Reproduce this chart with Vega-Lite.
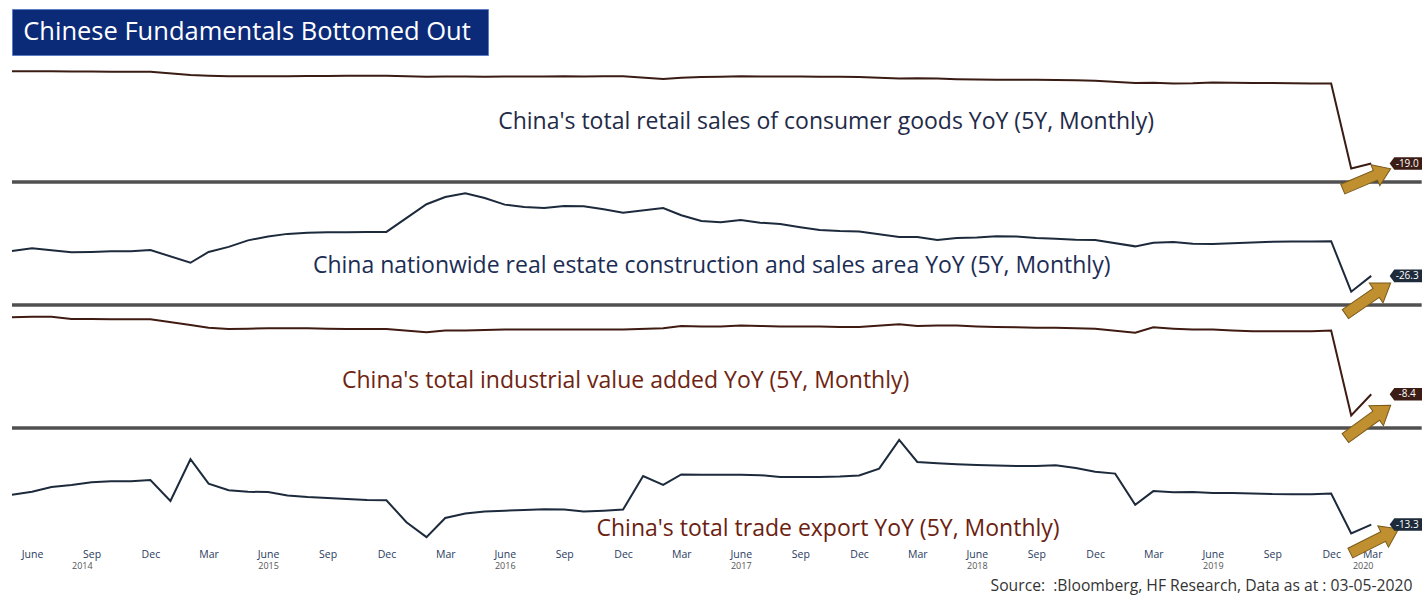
{
  "$schema": "https://vega.github.io/schema/vega-lite/v6.json",
  "padding": {"left": 8, "top": 8, "right": 0, "bottom": 6},
  "background": "white",
  "bounds": "flush",
  "spacing": 0,
  "title": {"text": "Source: \u00a0:Bloomberg, HF Research, Data as at : 03-05-2020", "orient": "bottom", "anchor": "end", "fontSize": 15.7, "font": "Open Sans", "fontWeight": "normal", "color": "#333333", "offset": 9, "dx": -11},
  "resolve": {"scale": {"x": "independent", "y": "independent"}},
  "config": {"view": {"stroke": null}, "font": "Open Sans"},
  "vconcat": [
    {
      "width": 476, "height": 46,
      "view": {"fill": "#0b2a78", "stroke": "#5c7cc4", "strokeWidth": 1},
      "data": {"values": [{"t": "Chinese Fundamentals Bottomed Out"}]},
      "mark": {"type": "text", "color": "white", "fontSize": 25.5, "font": "Open Sans", "dx": -3},
      "encoding": {"text": {"field": "t"}}
    },
    {
      "width": 1378, "height": 127,
      "layer": [
        {
          "data": {"values": [
            {"date": "2014-05-01", "value": 12.2}, {"date": "2014-06-01", "value": 12.2}, {"date": "2014-07-01", "value": 12.2}, {"date": "2014-08-01", "value": 12.1}, {"date": "2014-09-01", "value": 12.1}, {"date": "2014-10-01", "value": 12.0}, {"date": "2014-11-01", "value": 12.0}, {"date": "2014-12-01", "value": 12.0},
            {"date": "2015-02-01", "value": 10.9}, {"date": "2015-03-01", "value": 10.7}, {"date": "2015-04-01", "value": 10.5}, {"date": "2015-05-01", "value": 10.5}, {"date": "2015-06-01", "value": 10.5}, {"date": "2015-07-01", "value": 10.5}, {"date": "2015-08-01", "value": 10.6}, {"date": "2015-09-01", "value": 10.6}, {"date": "2015-10-01", "value": 10.7}, {"date": "2015-11-01", "value": 10.7}, {"date": "2015-12-01", "value": 10.7},
            {"date": "2016-02-01", "value": 10.3}, {"date": "2016-03-01", "value": 10.4}, {"date": "2016-04-01", "value": 10.4}, {"date": "2016-05-01", "value": 10.3}, {"date": "2016-06-01", "value": 10.4}, {"date": "2016-07-01", "value": 10.4}, {"date": "2016-08-01", "value": 10.4}, {"date": "2016-09-01", "value": 10.5}, {"date": "2016-10-01", "value": 10.4}, {"date": "2016-11-01", "value": 10.5}, {"date": "2016-12-01", "value": 10.5},
            {"date": "2017-02-01", "value": 9.6}, {"date": "2017-03-01", "value": 10.0}, {"date": "2017-04-01", "value": 10.2}, {"date": "2017-05-01", "value": 10.3}, {"date": "2017-06-01", "value": 10.5}, {"date": "2017-07-01", "value": 10.4}, {"date": "2017-08-01", "value": 10.4}, {"date": "2017-09-01", "value": 10.4}, {"date": "2017-10-01", "value": 10.3}, {"date": "2017-11-01", "value": 10.3}, {"date": "2017-12-01", "value": 10.2},
            {"date": "2018-02-01", "value": 9.7}, {"date": "2018-03-01", "value": 9.8}, {"date": "2018-04-01", "value": 9.7}, {"date": "2018-05-01", "value": 9.5}, {"date": "2018-06-01", "value": 9.4}, {"date": "2018-07-01", "value": 9.3}, {"date": "2018-08-01", "value": 9.3}, {"date": "2018-09-01", "value": 9.3}, {"date": "2018-10-01", "value": 9.2}, {"date": "2018-11-01", "value": 9.1}, {"date": "2018-12-01", "value": 9.0},
            {"date": "2019-02-01", "value": 8.2}, {"date": "2019-03-01", "value": 8.3}, {"date": "2019-04-01", "value": 8.0}, {"date": "2019-05-01", "value": 8.1}, {"date": "2019-06-01", "value": 8.4}, {"date": "2019-07-01", "value": 8.3}, {"date": "2019-08-01", "value": 8.2}, {"date": "2019-09-01", "value": 8.2}, {"date": "2019-10-01", "value": 8.1}, {"date": "2019-11-01", "value": 8.0}, {"date": "2019-12-01", "value": 8.0},
            {"date": "2020-01-01", "value": -20.7}, {"date": "2020-02-01", "value": -19.0}
          ]},
          "mark": {"type": "line", "color": "#3a1c14", "strokeWidth": 2},
          "encoding": {
            "x": {"field": "date", "type": "temporal", "scale": {"type": "utc", "domain": [{"year": 2014, "month": 5, "date": 1, "utc": true}, {"year": 2020, "month": 3, "date": 1, "utc": true}]}, "axis": null},
            "y": {"field": "value", "type": "quantitative", "scale": {"domain": [-25.24, 17.67], "nice": false, "zero": false},
              "axis": {"orient": "right", "title": null, "grid": false, "values": [15, 10, 5, 0, -5, -10, -15, -20], "labelExpr": "datum.value % 10 === 0 ? '' + datum.value : ''", "labelOverlap": false, "domainColor": "#8a8a8a", "tickColor": "#444444", "tickSize": 4, "tickWidth": {"condition": {"test": "datum.value % 10 === 0", "value": 2}, "value": 1}, "labelFontSize": 9, "labelColor": "#444444", "labelPadding": 2, "labelFont": "Open Sans"}}
          }
        },
        {
          "data": {"values": [{"date": "2017-10-11", "value": -5.0, "text": "China's total retail sales of consumer goods YoY (5Y, Monthly)"}]},
          "mark": {"type": "text", "fontSize": 23, "color": "#1f2b48", "font": "Open Sans"},
          "encoding": {
            "x": {"field": "date", "type": "temporal", "scale": {"type": "utc", "domain": [{"year": 2014, "month": 5, "date": 1, "utc": true}, {"year": 2020, "month": 3, "date": 1, "utc": true}]}, "axis": null},
            "y": {"field": "value", "type": "quantitative", "scale": {"domain": [-25.24, 17.67], "nice": false, "zero": false}, "axis": null},
            "text": {"field": "text"}
          }
        },
        {
          "data": {"values": [{}]},
          "mark": {"type": "rule", "color": "#505050", "strokeWidth": 3.5},
          "encoding": {
            "x": {"datum": {"year": 2014, "month": 5, "date": 1, "utc": true}, "type": "temporal", "scale": {"type": "utc", "domain": [{"year": 2014, "month": 5, "date": 1, "utc": true}, {"year": 2020, "month": 3, "date": 1, "utc": true}]}, "axis": null},
            "x2": {"datum": {"year": 2020, "month": 4, "date": 19, "utc": true}},
            "y": {"datum": -25.24, "type": "quantitative", "scale": {"domain": [-25.24, 17.67], "nice": false, "zero": false}, "axis": null}
          }
        },
        {
          "data": {"values": [{"date": "2020-01-25", "value": -24.2}]},
          "mark": {"type": "point", "filled": true, "shape": "M-1,-0.2L0.36,-0.2L0.36,-0.44L1,0L0.36,0.44L0.36,0.2L-1,0.2Z", "size": 2704, "angle": -23, "color": "#bf8f30", "stroke": "#7a5a1a", "strokeWidth": 1, "opacity": 1},
          "encoding": {
            "x": {"field": "date", "type": "temporal", "scale": {"type": "utc", "domain": [{"year": 2014, "month": 5, "date": 1, "utc": true}, {"year": 2020, "month": 3, "date": 1, "utc": true}]}, "axis": null},
            "y": {"field": "value", "type": "quantitative", "scale": {"domain": [-25.24, 17.67], "nice": false, "zero": false}, "axis": null}
          }
        },
        {
          "data": {"values": [{"date": "2020-03-26", "value": -19.0, "label": "-19.0"}]},
          "layer": [
            {"mark": {"type": "point", "filled": true, "shape": "M-1,0L-0.72,-0.38L1,-0.38L1,0.38L-0.72,0.38Z", "size": 1089, "color": "#3b1d15", "opacity": 1}},
            {"mark": {"type": "text", "color": "white", "fontSize": 10, "font": "Open Sans", "dx": 1}, "encoding": {"text": {"field": "label"}}}
          ],
          "encoding": {
            "x": {"field": "date", "type": "temporal", "scale": {"type": "utc", "domain": [{"year": 2014, "month": 5, "date": 1, "utc": true}, {"year": 2020, "month": 3, "date": 1, "utc": true}]}, "axis": null},
            "y": {"field": "value", "type": "quantitative", "scale": {"domain": [-25.24, 17.67], "nice": false, "zero": false}, "axis": null}
          }
        }
      ]
    },
    {
      "width": 1378, "height": 123,
      "layer": [
        {
          "data": {"values": [
            {"date": "2014-05-01", "value": -7.2}, {"date": "2014-06-01", "value": -5.1}, {"date": "2014-07-01", "value": -6.6}, {"date": "2014-08-01", "value": -8.2}, {"date": "2014-09-01", "value": -7.9}, {"date": "2014-10-01", "value": -7.4}, {"date": "2014-11-01", "value": -7.4}, {"date": "2014-12-01", "value": -6.4},
            {"date": "2015-02-01", "value": -16.2}, {"date": "2015-03-01", "value": -7.9}, {"date": "2015-04-01", "value": -4.0}, {"date": "2015-05-01", "value": 1.0}, {"date": "2015-06-01", "value": 4.0}, {"date": "2015-07-01", "value": 6.0}, {"date": "2015-08-01", "value": 6.8}, {"date": "2015-09-01", "value": 7.2}, {"date": "2015-10-01", "value": 7.3}, {"date": "2015-11-01", "value": 7.5}, {"date": "2015-12-01", "value": 7.5},
            {"date": "2016-02-01", "value": 28.8}, {"date": "2016-03-01", "value": 34.4}, {"date": "2016-04-01", "value": 37.2}, {"date": "2016-05-01", "value": 33.6}, {"date": "2016-06-01", "value": 28.5}, {"date": "2016-07-01", "value": 26.7}, {"date": "2016-08-01", "value": 25.9}, {"date": "2016-09-01", "value": 27.5}, {"date": "2016-10-01", "value": 27.2}, {"date": "2016-11-01", "value": 24.9}, {"date": "2016-12-01", "value": 22.3},
            {"date": "2017-02-01", "value": 25.9}, {"date": "2017-03-01", "value": 20.3}, {"date": "2017-04-01", "value": 15.9}, {"date": "2017-05-01", "value": 14.9}, {"date": "2017-06-01", "value": 16.7}, {"date": "2017-07-01", "value": 14.6}, {"date": "2017-08-01", "value": 13.6}, {"date": "2017-09-01", "value": 11.1}, {"date": "2017-10-01", "value": 9.0}, {"date": "2017-11-01", "value": 8.2}, {"date": "2017-12-01", "value": 7.8},
            {"date": "2018-02-01", "value": 3.6}, {"date": "2018-03-01", "value": 3.6}, {"date": "2018-04-01", "value": 1.3}, {"date": "2018-05-01", "value": 2.9}, {"date": "2018-06-01", "value": 3.3}, {"date": "2018-07-01", "value": 4.2}, {"date": "2018-08-01", "value": 4.0}, {"date": "2018-09-01", "value": 2.9}, {"date": "2018-10-01", "value": 2.2}, {"date": "2018-11-01", "value": 1.4}, {"date": "2018-12-01", "value": 1.3},
            {"date": "2019-02-01", "value": -3.6}, {"date": "2019-03-01", "value": -0.9}, {"date": "2019-04-01", "value": -0.3}, {"date": "2019-05-01", "value": -1.6}, {"date": "2019-06-01", "value": -1.8}, {"date": "2019-07-01", "value": -1.3}, {"date": "2019-08-01", "value": -0.6}, {"date": "2019-09-01", "value": -0.1}, {"date": "2019-10-01", "value": 0.1}, {"date": "2019-11-01", "value": 0.2}, {"date": "2019-12-01", "value": 0.4},
            {"date": "2020-01-01", "value": -38.5}, {"date": "2020-02-01", "value": -26.3}
          ]},
          "mark": {"type": "line", "color": "#1c2a3c", "strokeWidth": 2},
          "encoding": {
            "x": {"field": "date", "type": "temporal", "scale": {"type": "utc", "domain": [{"year": 2014, "month": 5, "date": 1, "utc": true}, {"year": 2020, "month": 3, "date": 1, "utc": true}]}, "axis": null},
            "y": {"field": "value", "type": "quantitative", "scale": {"domain": [-48.7, 45.9], "nice": false, "zero": false},
              "axis": {"orient": "right", "title": null, "grid": false, "values": [40, 30, 20, 10, 0, -10, -20, -30, -40], "labelExpr": "datum.value % 20 === 0 ? '' + datum.value : ''", "labelOverlap": false, "domainColor": "#8a8a8a", "tickColor": "#444444", "tickSize": 4, "tickWidth": {"condition": {"test": "datum.value % 20 === 0", "value": 2}, "value": 1}, "labelFontSize": 9, "labelColor": "#444444", "labelPadding": 2, "labelFont": "Open Sans"}}
          }
        },
        {
          "data": {"values": [{"date": "2017-04-17", "value": -18.7, "text": "China nationwide real estate construction and sales area YoY (5Y, Monthly)"}]},
          "mark": {"type": "text", "fontSize": 23, "color": "#1c2d55", "font": "Open Sans"},
          "encoding": {
            "x": {"field": "date", "type": "temporal", "scale": {"type": "utc", "domain": [{"year": 2014, "month": 5, "date": 1, "utc": true}, {"year": 2020, "month": 3, "date": 1, "utc": true}]}, "axis": null},
            "y": {"field": "value", "type": "quantitative", "scale": {"domain": [-48.7, 45.9], "nice": false, "zero": false}, "axis": null},
            "text": {"field": "text"}
          }
        },
        {
          "data": {"values": [{}]},
          "mark": {"type": "rule", "color": "#505050", "strokeWidth": 3.5},
          "encoding": {
            "x": {"datum": {"year": 2014, "month": 5, "date": 1, "utc": true}, "type": "temporal", "scale": {"type": "utc", "domain": [{"year": 2014, "month": 5, "date": 1, "utc": true}, {"year": 2020, "month": 3, "date": 1, "utc": true}]}, "axis": null},
            "x2": {"datum": {"year": 2020, "month": 4, "date": 19, "utc": true}},
            "y": {"datum": -48.7, "type": "quantitative", "scale": {"domain": [-48.7, 45.9], "nice": false, "zero": false}, "axis": null}
          }
        },
        {
          "data": {"values": [{"date": "2020-01-27", "value": -43.7}]},
          "mark": {"type": "point", "filled": true, "shape": "M-1,-0.2L0.36,-0.2L0.36,-0.44L1,0L0.36,0.44L0.36,0.2L-1,0.2Z", "size": 3025, "angle": -34.6, "color": "#bf8f30", "stroke": "#7a5a1a", "strokeWidth": 1, "opacity": 1},
          "encoding": {
            "x": {"field": "date", "type": "temporal", "scale": {"type": "utc", "domain": [{"year": 2014, "month": 5, "date": 1, "utc": true}, {"year": 2020, "month": 3, "date": 1, "utc": true}]}, "axis": null},
            "y": {"field": "value", "type": "quantitative", "scale": {"domain": [-48.7, 45.9], "nice": false, "zero": false}, "axis": null}
          }
        },
        {
          "data": {"values": [{"date": "2020-03-26", "value": -26.3, "label": "-26.3"}]},
          "layer": [
            {"mark": {"type": "point", "filled": true, "shape": "M-1,0L-0.72,-0.38L1,-0.38L1,0.38L-0.72,0.38Z", "size": 1089, "color": "#1d2b3b", "opacity": 1}},
            {"mark": {"type": "text", "color": "white", "fontSize": 10, "font": "Open Sans", "dx": 1}, "encoding": {"text": {"field": "label"}}}
          ],
          "encoding": {
            "x": {"field": "date", "type": "temporal", "scale": {"type": "utc", "domain": [{"year": 2014, "month": 5, "date": 1, "utc": true}, {"year": 2020, "month": 3, "date": 1, "utc": true}]}, "axis": null},
            "y": {"field": "value", "type": "quantitative", "scale": {"domain": [-48.7, 45.9], "nice": false, "zero": false}, "axis": null}
          }
        }
      ]
    },
    {
      "width": 1378, "height": 123,
      "layer": [
        {
          "data": {"values": [
            {"date": "2014-05-01", "value": 9.0}, {"date": "2014-06-01", "value": 9.1}, {"date": "2014-07-01", "value": 9.1}, {"date": "2014-08-01", "value": 8.6}, {"date": "2014-09-01", "value": 8.6}, {"date": "2014-10-01", "value": 8.5}, {"date": "2014-11-01", "value": 8.5}, {"date": "2014-12-01", "value": 8.5},
            {"date": "2015-02-01", "value": 7.2}, {"date": "2015-03-01", "value": 6.6}, {"date": "2015-04-01", "value": 6.3}, {"date": "2015-05-01", "value": 6.4}, {"date": "2015-06-01", "value": 6.5}, {"date": "2015-07-01", "value": 6.5}, {"date": "2015-08-01", "value": 6.5}, {"date": "2015-09-01", "value": 6.4}, {"date": "2015-10-01", "value": 6.3}, {"date": "2015-11-01", "value": 6.3}, {"date": "2015-12-01", "value": 6.3},
            {"date": "2016-02-01", "value": 5.6}, {"date": "2016-03-01", "value": 6.0}, {"date": "2016-04-01", "value": 6.0}, {"date": "2016-05-01", "value": 6.1}, {"date": "2016-06-01", "value": 6.2}, {"date": "2016-07-01", "value": 6.2}, {"date": "2016-08-01", "value": 6.2}, {"date": "2016-09-01", "value": 6.2}, {"date": "2016-10-01", "value": 6.2}, {"date": "2016-11-01", "value": 6.2}, {"date": "2016-12-01", "value": 6.2},
            {"date": "2017-02-01", "value": 6.5}, {"date": "2017-03-01", "value": 7.0}, {"date": "2017-04-01", "value": 6.9}, {"date": "2017-05-01", "value": 6.9}, {"date": "2017-06-01", "value": 7.1}, {"date": "2017-07-01", "value": 7.0}, {"date": "2017-08-01", "value": 6.9}, {"date": "2017-09-01", "value": 6.9}, {"date": "2017-10-01", "value": 6.9}, {"date": "2017-11-01", "value": 6.8}, {"date": "2017-12-01", "value": 6.8},
            {"date": "2018-02-01", "value": 7.4}, {"date": "2018-03-01", "value": 7.0}, {"date": "2018-04-01", "value": 7.1}, {"date": "2018-05-01", "value": 7.1}, {"date": "2018-06-01", "value": 6.9}, {"date": "2018-07-01", "value": 6.8}, {"date": "2018-08-01", "value": 6.7}, {"date": "2018-09-01", "value": 6.6}, {"date": "2018-10-01", "value": 6.6}, {"date": "2018-11-01", "value": 6.5}, {"date": "2018-12-01", "value": 6.4},
            {"date": "2019-02-01", "value": 5.5}, {"date": "2019-03-01", "value": 6.7}, {"date": "2019-04-01", "value": 6.4}, {"date": "2019-05-01", "value": 6.2}, {"date": "2019-06-01", "value": 6.2}, {"date": "2019-07-01", "value": 6.0}, {"date": "2019-08-01", "value": 5.8}, {"date": "2019-09-01", "value": 5.8}, {"date": "2019-10-01", "value": 5.8}, {"date": "2019-11-01", "value": 5.8}, {"date": "2019-12-01", "value": 6.0},
            {"date": "2020-01-01", "value": -13.2}, {"date": "2020-02-01", "value": -8.4}
          ]},
          "mark": {"type": "line", "color": "#3f1b12", "strokeWidth": 2},
          "encoding": {
            "x": {"field": "date", "type": "temporal", "scale": {"type": "utc", "domain": [{"year": 2014, "month": 5, "date": 1, "utc": true}, {"year": 2020, "month": 3, "date": 1, "utc": true}]}, "axis": null},
            "y": {"field": "value", "type": "quantitative", "scale": {"domain": [-16.03, 11.74], "nice": false, "zero": false},
              "axis": {"orient": "right", "title": null, "grid": false, "values": [10, 5, 0, -5, -10, -15], "labelExpr": "datum.value % 10 === 0 ? '' + datum.value : ''", "labelOverlap": false, "domainColor": "#8a8a8a", "tickColor": "#444444", "tickSize": 4, "tickWidth": {"condition": {"test": "datum.value % 10 === 0", "value": 2}, "value": 1}, "labelFontSize": 9, "labelColor": "#444444", "labelPadding": 2, "labelFont": "Open Sans"}}
          }
        },
        {
          "data": {"values": [{"date": "2016-12-05", "value": -5.4, "text": "China's total industrial value added YoY (5Y, Monthly)"}]},
          "mark": {"type": "text", "fontSize": 23, "color": "#6e2411", "font": "Open Sans"},
          "encoding": {
            "x": {"field": "date", "type": "temporal", "scale": {"type": "utc", "domain": [{"year": 2014, "month": 5, "date": 1, "utc": true}, {"year": 2020, "month": 3, "date": 1, "utc": true}]}, "axis": null},
            "y": {"field": "value", "type": "quantitative", "scale": {"domain": [-16.03, 11.74], "nice": false, "zero": false}, "axis": null},
            "text": {"field": "text"}
          }
        },
        {
          "data": {"values": [{}]},
          "mark": {"type": "rule", "color": "#505050", "strokeWidth": 3.5},
          "encoding": {
            "x": {"datum": {"year": 2014, "month": 5, "date": 1, "utc": true}, "type": "temporal", "scale": {"type": "utc", "domain": [{"year": 2014, "month": 5, "date": 1, "utc": true}, {"year": 2020, "month": 3, "date": 1, "utc": true}]}, "axis": null},
            "x2": {"datum": {"year": 2020, "month": 4, "date": 19, "utc": true}},
            "y": {"datum": -16.03, "type": "quantitative", "scale": {"domain": [-16.03, 11.74], "nice": false, "zero": false}, "axis": null}
          }
        },
        {
          "data": {"values": [{"date": "2020-01-27", "value": -14.6}]},
          "mark": {"type": "point", "filled": true, "shape": "M-1,-0.2L0.36,-0.2L0.36,-0.44L1,0L0.36,0.44L0.36,0.2L-1,0.2Z", "size": 3136, "angle": -36, "color": "#bf8f30", "stroke": "#7a5a1a", "strokeWidth": 1, "opacity": 1},
          "encoding": {
            "x": {"field": "date", "type": "temporal", "scale": {"type": "utc", "domain": [{"year": 2014, "month": 5, "date": 1, "utc": true}, {"year": 2020, "month": 3, "date": 1, "utc": true}]}, "axis": null},
            "y": {"field": "value", "type": "quantitative", "scale": {"domain": [-16.03, 11.74], "nice": false, "zero": false}, "axis": null}
          }
        },
        {
          "data": {"values": [{"date": "2020-03-26", "value": -8.4, "label": "-8.4"}]},
          "layer": [
            {"mark": {"type": "point", "filled": true, "shape": "M-1,0L-0.72,-0.38L1,-0.38L1,0.38L-0.72,0.38Z", "size": 1089, "color": "#3b1d15", "opacity": 1}},
            {"mark": {"type": "text", "color": "white", "fontSize": 10, "font": "Open Sans", "dx": 1}, "encoding": {"text": {"field": "label"}}}
          ],
          "encoding": {
            "x": {"field": "date", "type": "temporal", "scale": {"type": "utc", "domain": [{"year": 2014, "month": 5, "date": 1, "utc": true}, {"year": 2020, "month": 3, "date": 1, "utc": true}]}, "axis": null},
            "y": {"field": "value", "type": "quantitative", "scale": {"domain": [-16.03, 11.74], "nice": false, "zero": false}, "axis": null}
          }
        }
      ]
    },
    {
      "width": 1378, "height": 119,
      "resolve": {"axis": {"x": "independent"}},
      "layer": [
        {
          "data": {"values": [
            {"date": "2014-05-01", "value": -0.2}, {"date": "2014-06-01", "value": 1.1}, {"date": "2014-07-01", "value": 3.2}, {"date": "2014-08-01", "value": 4.1}, {"date": "2014-09-01", "value": 5.3}, {"date": "2014-10-01", "value": 5.7}, {"date": "2014-11-01", "value": 5.7}, {"date": "2014-12-01", "value": 6.3},
            {"date": "2015-01-01", "value": -2.9}, {"date": "2015-02-01", "value": 15.4}, {"date": "2015-03-01", "value": 4.7}, {"date": "2015-04-01", "value": 1.8}, {"date": "2015-05-01", "value": 1.1}, {"date": "2015-06-01", "value": 1.0}, {"date": "2015-07-01", "value": -0.5}, {"date": "2015-08-01", "value": -1.2}, {"date": "2015-09-01", "value": -1.6}, {"date": "2015-10-01", "value": -2.1}, {"date": "2015-11-01", "value": -2.5}, {"date": "2015-12-01", "value": -2.6},
            {"date": "2016-01-01", "value": -12.3}, {"date": "2016-02-01", "value": -18.8}, {"date": "2016-03-01", "value": -10.4}, {"date": "2016-04-01", "value": -8.4}, {"date": "2016-05-01", "value": -7.6}, {"date": "2016-06-01", "value": -7.2}, {"date": "2016-07-01", "value": -6.9}, {"date": "2016-08-01", "value": -6.6}, {"date": "2016-09-01", "value": -6.7}, {"date": "2016-10-01", "value": -7.6}, {"date": "2016-11-01", "value": -7.2}, {"date": "2016-12-01", "value": -6.7},
            {"date": "2017-01-01", "value": 8.0}, {"date": "2017-02-01", "value": 4.1}, {"date": "2017-03-01", "value": 8.7}, {"date": "2017-04-01", "value": 8.6}, {"date": "2017-05-01", "value": 8.6}, {"date": "2017-06-01", "value": 8.6}, {"date": "2017-07-01", "value": 8.4}, {"date": "2017-08-01", "value": 7.6}, {"date": "2017-09-01", "value": 7.6}, {"date": "2017-10-01", "value": 7.6}, {"date": "2017-11-01", "value": 7.8}, {"date": "2017-12-01", "value": 8.3},
            {"date": "2018-01-01", "value": 11.3}, {"date": "2018-02-01", "value": 23.9}, {"date": "2018-03-01", "value": 14.2}, {"date": "2018-04-01", "value": 13.6}, {"date": "2018-05-01", "value": 13.2}, {"date": "2018-06-01", "value": 12.9}, {"date": "2018-07-01", "value": 12.7}, {"date": "2018-08-01", "value": 12.4}, {"date": "2018-09-01", "value": 12.4}, {"date": "2018-10-01", "value": 12.8}, {"date": "2018-11-01", "value": 11.6}, {"date": "2018-12-01", "value": 9.9},
            {"date": "2019-01-01", "value": 9.1}, {"date": "2019-02-01", "value": -4.6}, {"date": "2019-03-01", "value": 1.4}, {"date": "2019-04-01", "value": 0.9}, {"date": "2019-05-01", "value": 1.0}, {"date": "2019-06-01", "value": 0.6}, {"date": "2019-07-01", "value": 0.6}, {"date": "2019-08-01", "value": 0.4}, {"date": "2019-09-01", "value": 0.1}, {"date": "2019-10-01", "value": 0.0}, {"date": "2019-11-01", "value": 0.0}, {"date": "2019-12-01", "value": 0.3},
            {"date": "2020-01-01", "value": -17.2}, {"date": "2020-02-01", "value": -13.3}
          ]},
          "mark": {"type": "line", "color": "#1c2a3c", "strokeWidth": 2},
          "encoding": {
            "x": {"field": "date", "type": "temporal", "scale": {"type": "utc", "domain": [{"year": 2014, "month": 5, "date": 1, "utc": true}, {"year": 2020, "month": 3, "date": 1, "utc": true}]},
              "axis": {"orient": "bottom", "title": null, "grid": false, "domain": false, "ticks": false, "labelPadding": 2, "labelFontSize": 10.5, "labelColor": "#2a3a5e", "labelFont": "Open Sans", "labelFlush": true, "labelFlushOffset": -8, "labelOverlap": false,
                "values": [{"year": 2014, "month": 6, "date": 1, "utc": true}, {"year": 2014, "month": 9, "date": 1, "utc": true}, {"year": 2014, "month": 12, "date": 1, "utc": true}, {"year": 2015, "month": 3, "date": 1, "utc": true}, {"year": 2015, "month": 6, "date": 1, "utc": true}, {"year": 2015, "month": 9, "date": 1, "utc": true}, {"year": 2015, "month": 12, "date": 1, "utc": true}, {"year": 2016, "month": 3, "date": 1, "utc": true}, {"year": 2016, "month": 6, "date": 1, "utc": true}, {"year": 2016, "month": 9, "date": 1, "utc": true}, {"year": 2016, "month": 12, "date": 1, "utc": true}, {"year": 2017, "month": 3, "date": 1, "utc": true}, {"year": 2017, "month": 6, "date": 1, "utc": true}, {"year": 2017, "month": 9, "date": 1, "utc": true}, {"year": 2017, "month": 12, "date": 1, "utc": true}, {"year": 2018, "month": 3, "date": 1, "utc": true}, {"year": 2018, "month": 6, "date": 1, "utc": true}, {"year": 2018, "month": 9, "date": 1, "utc": true}, {"year": 2018, "month": 12, "date": 1, "utc": true}, {"year": 2019, "month": 3, "date": 1, "utc": true}, {"year": 2019, "month": 6, "date": 1, "utc": true}, {"year": 2019, "month": 9, "date": 1, "utc": true}, {"year": 2019, "month": 12, "date": 1, "utc": true}, {"year": 2020, "month": 3, "date": 1, "utc": true}],
                "labelExpr": "utcFormat(datum.value, '%m') === '06' ? 'June' : utcFormat(datum.value, '%b')"}},
            "y": {"field": "value", "type": "quantitative", "scale": {"domain": [-23.16, 29.14], "nice": false, "zero": false},
              "axis": {"orient": "right", "title": null, "grid": false, "values": [20, 10, 0, -10, -20], "labelExpr": "datum.value % 20 === 0 ? '' + datum.value : ''", "labelOverlap": false, "domainColor": "#8a8a8a", "tickColor": "#444444", "tickSize": 4, "tickWidth": {"condition": {"test": "datum.value % 20 === 0", "value": 2}, "value": 1}, "labelFontSize": 9, "labelColor": "#444444", "labelPadding": 2, "labelFont": "Open Sans"}}
          }
        },
        {
          "data": {"values": [{"date": "2017-10-14", "value": -15.3, "text": "China's total trade export YoY (5Y, Monthly)"}]},
          "mark": {"type": "text", "fontSize": 23, "color": "#6b2110", "font": "Open Sans"},
          "encoding": {
            "x": {"field": "date", "type": "temporal", "scale": {"type": "utc", "domain": [{"year": 2014, "month": 5, "date": 1, "utc": true}, {"year": 2020, "month": 3, "date": 1, "utc": true}]},
              "axis": {"orient": "bottom", "title": null, "grid": false, "domain": false, "ticks": false, "offset": 13, "labelPadding": 1, "labelFontSize": 9, "labelColor": "#555555", "labelFont": "Open Sans", "labelFlush": true, "labelFlushOffset": -17, "labelOverlap": false,
                "values": [{"year": 2014, "month": 8, "date": 17, "utc": true}, {"year": 2015, "month": 6, "date": 1, "utc": true}, {"year": 2016, "month": 6, "date": 1, "utc": true}, {"year": 2017, "month": 6, "date": 1, "utc": true}, {"year": 2018, "month": 6, "date": 1, "utc": true}, {"year": 2019, "month": 6, "date": 1, "utc": true}, {"year": 2020, "month": 3, "date": 1, "utc": true}],
                "labelExpr": "utcFormat(datum.value, '%Y')"}},
            "y": {"field": "value", "type": "quantitative", "scale": {"domain": [-23.16, 29.14], "nice": false, "zero": false}, "axis": null},
            "text": {"field": "text"}
          }
        },
        {
          "data": {"values": [{"date": "2020-02-06", "value": -20.5}]},
          "mark": {"type": "point", "filled": true, "shape": "M-1,-0.2L0.36,-0.2L0.36,-0.44L1,0L0.36,0.44L0.36,0.2L-1,0.2Z", "size": 2916, "angle": -26.6, "color": "#bf8f30", "stroke": "#7a5a1a", "strokeWidth": 1, "opacity": 1},
          "encoding": {
            "x": {"field": "date", "type": "temporal", "scale": {"type": "utc", "domain": [{"year": 2014, "month": 5, "date": 1, "utc": true}, {"year": 2020, "month": 3, "date": 1, "utc": true}]}, "axis": null},
            "y": {"field": "value", "type": "quantitative", "scale": {"domain": [-23.16, 29.14], "nice": false, "zero": false}, "axis": null}
          }
        },
        {
          "data": {"values": [{"date": "2020-03-26", "value": -13.3, "label": "-13.3"}]},
          "layer": [
            {"mark": {"type": "point", "filled": true, "shape": "M-1,0L-0.72,-0.38L1,-0.38L1,0.38L-0.72,0.38Z", "size": 1089, "color": "#1d2b3b", "opacity": 1}},
            {"mark": {"type": "text", "color": "white", "fontSize": 10, "font": "Open Sans", "dx": 1}, "encoding": {"text": {"field": "label"}}}
          ],
          "encoding": {
            "x": {"field": "date", "type": "temporal", "scale": {"type": "utc", "domain": [{"year": 2014, "month": 5, "date": 1, "utc": true}, {"year": 2020, "month": 3, "date": 1, "utc": true}]}, "axis": null},
            "y": {"field": "value", "type": "quantitative", "scale": {"domain": [-23.16, 29.14], "nice": false, "zero": false}, "axis": null}
          }
        }
      ]
    }
  ]
}
